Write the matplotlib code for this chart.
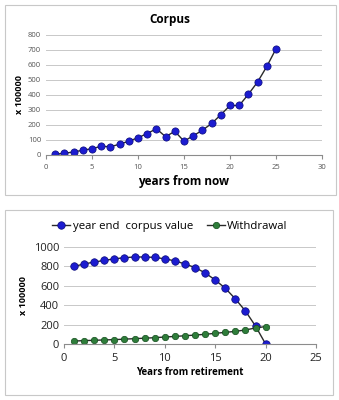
import matplotlib.pyplot as plt
from matplotlib.patches import Rectangle

# top chart: corpus growth
years_now = list(range(1, 26))
corpus = [5, 12, 20, 32, 42, 58, 55, 72, 92, 115, 143, 175, 122, 158, 92,
          128, 165, 210, 268, 330, 330, 405, 487, 590, 708]

# bottom chart: drawdown after retirement
years_ret = list(range(1, 21))
year_end_corpus = [800, 825, 845, 862, 878, 890, 897, 897, 893, 878, 857, 825,
                   788, 733, 660, 575, 465, 340, 185, 0]
withdrawal = [30, 35, 38, 42, 45, 50, 55, 60, 65, 72, 78, 85, 92, 100, 110,
              120, 130, 145, 165, 180]

plt.rcParams['font.family'] = ['Open Sans', 'DejaVu Sans']

W, H = 339, 400
fig = plt.figure(figsize=(W / 100, H / 100), dpi=100)


def frac_box(x0, y0, x1, y1):
    return [x0 / W, 1 - y1 / H, (x1 - x0) / W, (y1 - y0) / H]


# chart borders
for x0, y0, x1, y1 in [(5, 5, 336, 195), (5, 210, 333, 395)]:
    fig.patches.append(Rectangle((x0 / W, 1 - y1 / H), (x1 - x0) / W, (y1 - y0) / H,
                                 transform=fig.transFigure, fill=False,
                                 edgecolor='#c8c8c8', linewidth=0.8))


def style_axes(ax):
    for s in ['top', 'right', 'left']:
        ax.spines[s].set_visible(False)
    ax.spines['bottom'].set_color('#8c8c8c')
    ax.spines['bottom'].set_linewidth(0.8)
    ax.yaxis.grid(True, color='#c8c8c8', linewidth=0.7)
    ax.set_axisbelow(True)
    ax.tick_params(axis='y', length=0)
    ax.tick_params(axis='x', direction='out', length=3, color='#8c8c8c')


# top
ax1 = fig.add_axes(frac_box(46, 35, 322, 155))
ax1.plot(years_now, corpus, color='#2a2a2a', linewidth=1.0, marker='o',
         markersize=5.2, markerfacecolor='#1c1cd0', markeredgecolor='#0a0a7a',
         markeredgewidth=0.5)
ax1.set_xlim(0, 30)
ax1.set_ylim(0, 800)
ax1.set_xticks(range(0, 31, 5))
ax1.set_yticks(range(0, 801, 100))
style_axes(ax1)
ax1.tick_params(labelsize=5.5, labelcolor='#555555')
fig.text(170 / W, 1 - 20 / H, 'Corpus', fontsize=8.5, fontweight='bold',
         ha='center', va='center')
ax1.set_xlabel('years from now', fontsize=8.5, fontweight='bold', labelpad=3)
ax1.set_ylabel('x 100000', fontsize=6.5, fontweight='bold', labelpad=3)

# bottom
ax2 = fig.add_axes(frac_box(64, 247, 316, 344))
ax2.plot(years_ret, year_end_corpus, color='#2a2a2a', linewidth=1.0, marker='o',
         markersize=5.4, markerfacecolor='#1c1cd0', markeredgecolor='#0a0a7a',
         markeredgewidth=0.5, label='year end  corpus value')
ax2.plot(years_ret, withdrawal, color='#2a2a2a', linewidth=1.0, marker='o',
         markersize=4.6, markerfacecolor='#2e7d3a', markeredgecolor='#134d1c',
         markeredgewidth=0.5, label='Withdrawal')
ax2.set_xlim(0, 25)
ax2.set_ylim(0, 1000)
ax2.set_xticks(range(0, 26, 5))
ax2.set_yticks(range(0, 1001, 200))
style_axes(ax2)
ax2.tick_params(labelsize=8, labelcolor='#222222')
ax2.set_xlabel('Years from retirement', fontsize=7, fontweight='bold', labelpad=2)
ax2.set_ylabel('x 100000', fontsize=6.5, fontweight='bold', labelpad=4)
ax2.legend(loc='lower center', bbox_to_anchor=(0.42, 1.11), ncol=2, frameon=False,
           fontsize=8.2, handlelength=1.6, handletextpad=0.2, columnspacing=1.2,
           borderaxespad=0)

fig.savefig('out.png', dpi=100)
